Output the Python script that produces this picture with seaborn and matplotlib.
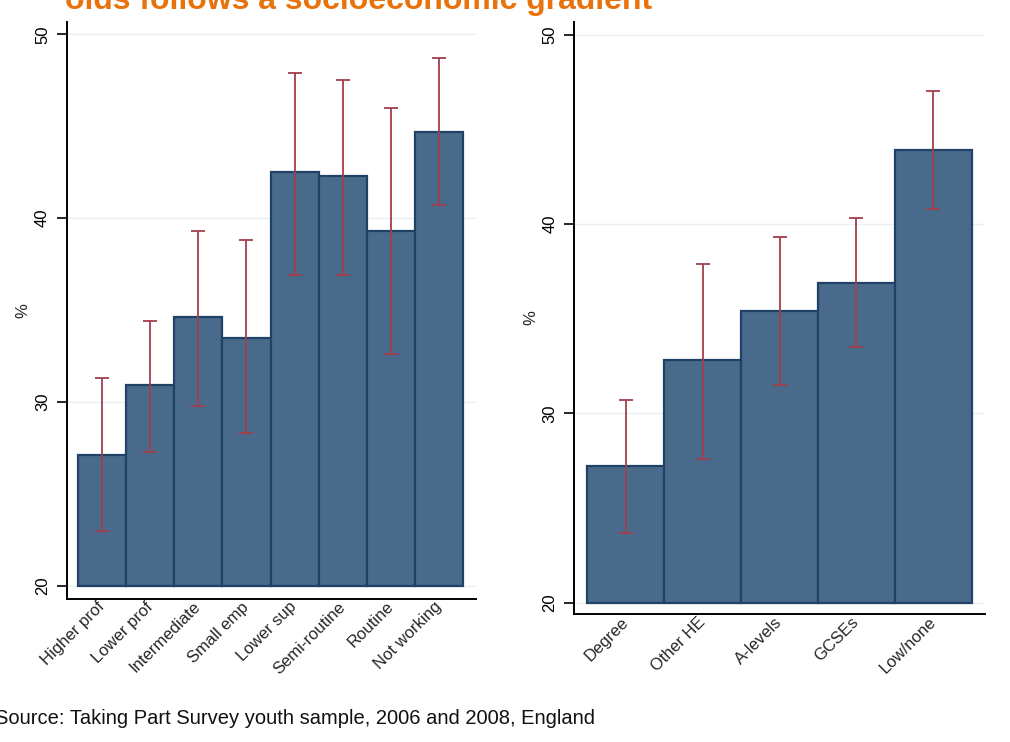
import numpy as np
import pandas as pd
import matplotlib
matplotlib.use("Agg")
import matplotlib.pyplot as plt
import seaborn as sns

# ---- data ----
class_labels = ["Higher prof", "Lower prof", "Intermediate", "Small emp",
                "Lower sup", "Semi-routine", "Routine", "Not working"]
class_pct = [27.1, 30.9, 34.6, 33.5, 42.5, 42.3, 39.3, 44.7]
class_lo = [23.0, 27.3, 29.8, 28.3, 36.9, 36.9, 32.6, 40.7]
class_hi = [31.3, 34.4, 39.3, 38.8, 47.9, 47.5, 46.0, 48.7]

edu_labels = ["Degree", "Other HE", "A-levels", "GCSEs", "Low/none"]
edu_pct = [27.2, 32.8, 35.4, 36.9, 43.9]
edu_lo = [23.7, 27.6, 31.5, 33.5, 40.8]
edu_hi = [30.7, 37.9, 39.3, 40.3, 47.0]

y_ticks = [20, 30, 40, 50]
base = 20

title_text = "olds follows a socioeconomic gradient"
source_text = "Source: Taking Part Survey youth sample, 2006 and 2008, England"

# ---- style ----
sns.set_style("white")
plt.rcParams["font.family"] = ["Liberation Sans", "DejaVu Sans"]

bar_fill = "#4A6A8B"
bar_edge = "#1F4266"
err_col = "#A23E4C"
grid_col = "#E8F0F1"

W, H = 1010, 742
fig = plt.figure(figsize=(W / 100, H / 100), dpi=100)

def panel(rect, labels, pct, lo, hi, xlim, ylim):
    ax = fig.add_axes(rect)
    df = pd.DataFrame({"cat": labels, "pct": pct})
    sns.barplot(data=df, x="cat", y="pct", ax=ax, color=bar_fill,
                saturation=1, width=1.0, edgecolor=bar_edge, linewidth=1.6,
                errorbar=None)
    for p in ax.patches:
        h = p.get_height()
        p.set_y(base)
        p.set_height(h - base)
    xs = np.arange(len(labels))
    pct_a = np.asarray(pct)
    yerr = [pct_a - np.asarray(lo), np.asarray(hi) - pct_a]
    ax.errorbar(xs, pct_a, yerr=yerr, fmt="none", ecolor=err_col,
                elinewidth=1.3, capsize=5, capthick=1.3, zorder=5)
    ax.set_xlim(*xlim)
    ax.set_ylim(*ylim)
    ax.set_yticks(y_ticks)
    ax.set_yticklabels([str(t) for t in y_ticks], rotation=90, va="center")
    ax.yaxis.grid(True, color=grid_col, lw=1.0)
    ax.set_axisbelow(True)
    for s in ["top", "right"]:
        ax.spines[s].set_visible(False)
    for s in ["left", "bottom"]:
        ax.spines[s].set_color("black")
        ax.spines[s].set_linewidth(1.4)
    ax.tick_params(axis="y", length=7, width=1.2, labelsize=12,
                   direction="out", pad=5, colors="black", left=True)
    ax.tick_params(axis="x", length=0, labelsize=12, pad=4)
    ax.set_xticks(xs)
    ax.set_xticklabels(labels, rotation=45, ha="right", va="center",
                       rotation_mode="anchor")
    ax.set_xlabel("")
    ax.set_ylabel("%", fontsize=12, labelpad=3)
    return ax

panel([66.7 / W, 1 - 599 / H, (476 - 66.7) / W, (599 - 22) / H],
      class_labels, class_pct, class_lo, class_hi,
      (-0.735, 7.77), (19.28, 50.67))
panel([574 / W, 1 - 614 / H, (985 - 574) / W, (614 - 22) / H],
      edu_labels, edu_pct, edu_lo, edu_hi,
      (-0.673, 4.673), (19.4, 50.67))

fig.text(65 / W, 1 - 9 / H, title_text, fontsize=23, fontweight="bold",
         color="#E8720C", va="baseline", ha="left")
fig.text(-5 / W, 1 - 718 / H, source_text, fontsize=14.5, va="center",
         ha="left", color="#111111")

fig.savefig("out.png", dpi=100)
